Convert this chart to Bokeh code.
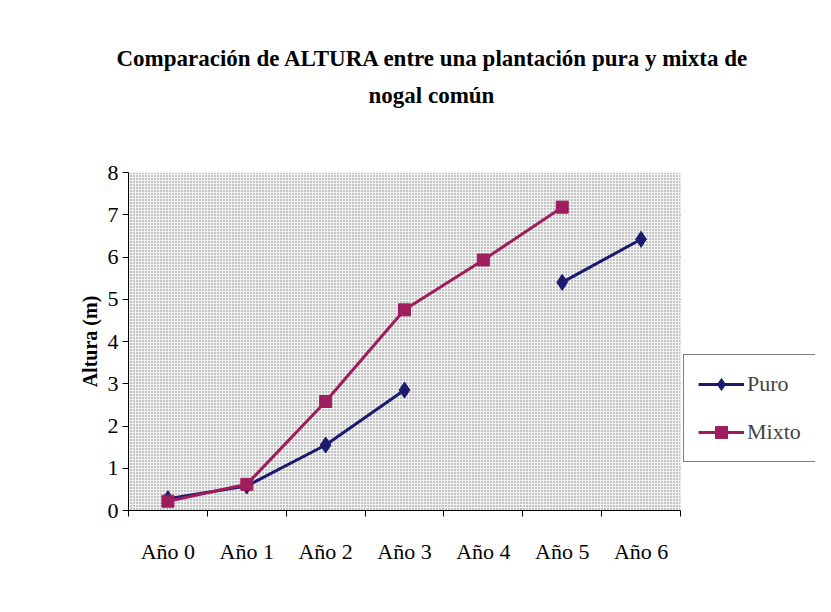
from bokeh.plotting import figure
from bokeh.models import (Range1d, FixedTicker, BoxAnnotation, Legend, LegendItem, Title)
from bokeh.embed import file_html
from bokeh.resources import INLINE

categories = ["Año 0", "Año 1", "Año 2", "Año 3", "Año 4", "Año 5", "Año 6"]
puro = [0.28, 0.58, 1.55, 2.85, float("nan"), 5.40, 6.42]
mixto = [0.22, 0.62, 2.58, 4.75, 5.93, 7.18, float("nan")]
title_lines = ["Comparación de ALTURA entre una plantación pura y mixta de", "nogal común"]
y_ticks = [0, 1, 2, 3, 4, 5, 6, 7, 8]
grid_levels = [1, 2, 3, 4, 5, 6, 7]

SERIF = "Liberation Serif"
NAVY = "#1c1a6e"
MAROON = "#9e1d5c"

W, H = 815, 596
LEFT, TOP, BOTTOM = 128, 172, 86
PLOT_W = 552.0     # pixel width of the category area
n = len(categories)
ymax = y_ticks[-1]
frame_w = W - LEFT
x_end = frame_w / (PLOT_W / n)

xs = [i + 0.5 for i in range(n)]

p = figure(width=W, height=H, output_backend="svg", toolbar_location=None,
           x_range=Range1d(0, x_end), y_range=Range1d(0, ymax),
           min_border_left=LEFT, min_border_right=0, min_border_top=TOP, min_border_bottom=BOTTOM)
p.outline_line_color = None
p.background_fill_color = "white"
p.border_fill_color = "white"
p.xgrid.grid_line_color = None
p.ygrid.grid_line_color = None

bg = BoxAnnotation(left=0, right=n, bottom=0, top=ymax, fill_color="#f3f3f3", fill_alpha=1,
                   line_alpha=0, hatch_pattern=".", hatch_color="#7a7a7a",
                   hatch_scale=3, hatch_weight=1, level="underlay")
p.add_layout(bg)
p.segment(x0=[0] * len(grid_levels), x1=[n] * len(grid_levels), y0=grid_levels, y1=grid_levels,
          line_color="#222222", line_width=1, level="underlay")

# axes
xa = p.xaxis[0]
xa.bounds = (0, n)
xa.ticker = FixedTicker(ticks=xs, minor_ticks=list(range(n + 1)))
xa.major_label_overrides = {x: c for x, c in zip(xs, categories)}
xa.major_tick_line_color = None
xa.minor_tick_in = 0
xa.minor_tick_out = 6
xa.minor_tick_line_color = "black"
xa.axis_line_color = "black"
xa.major_label_standoff = 22
xa.major_label_text_font = SERIF
xa.major_label_text_font_size = "22px"
xa.major_label_text_color = "black"

ya = p.yaxis[0]
ya.bounds = (0, ymax)
ya.ticker = FixedTicker(ticks=y_ticks)
ya.minor_tick_line_color = None
ya.major_tick_in = 0
ya.major_tick_out = 6
ya.axis_line_color = "black"
ya.major_tick_line_color = "black"
ya.major_label_text_font = SERIF
ya.major_label_text_font_size = "22px"
ya.major_label_text_color = "black"
ya.major_label_standoff = 4
ya.axis_label = "Altura (m)"
ya.axis_label_text_font = SERIF
ya.axis_label_text_font_style = "bold"
ya.axis_label_text_font_size = "20px"
ya.axis_label_text_color = "black"
ya.axis_label_standoff = 4

l1 = p.line(xs, puro, line_color=NAVY, line_width=3)
m1 = p.scatter(xs, puro, marker="diamond", size=16, fill_color=NAVY, line_color=NAVY)
l2 = p.line(xs, mixto, line_color=MAROON, line_width=3)
m2 = p.scatter(xs, mixto, marker="square", size=12, fill_color=MAROON, line_color=MAROON)

legend = Legend(items=[LegendItem(label="Puro", renderers=[l1, m1]),
                       LegendItem(label="Mixto", renderers=[l2, m2])],
                location=(555, 48), orientation="vertical",
                border_line_color="black", border_line_width=1,
                background_fill_color="white", background_fill_alpha=1,
                label_text_font=SERIF, label_text_font_size="22px",
                glyph_width=46, glyph_height=30, spacing=18,
                padding=14, margin=0, label_standoff=3)
p.add_layout(legend, "center")

# spacer between the title block and the plot area
p.add_layout(Title(text=" ", text_font_size="1px", standoff=57), "above")
p.add_layout(Title(text=title_lines[1], align="left", offset=240, text_font=SERIF,
                   text_font_style="bold", text_font_size="23px", text_color="black",
                   standoff=10), "above")
p.add_layout(Title(text=title_lines[0], align="left", offset=-12, text_font=SERIF,
                   text_font_style="bold", text_font_size="23px", text_color="black",
                   standoff=10), "above")

open("out.html", "w").write(file_html(p, INLINE))
